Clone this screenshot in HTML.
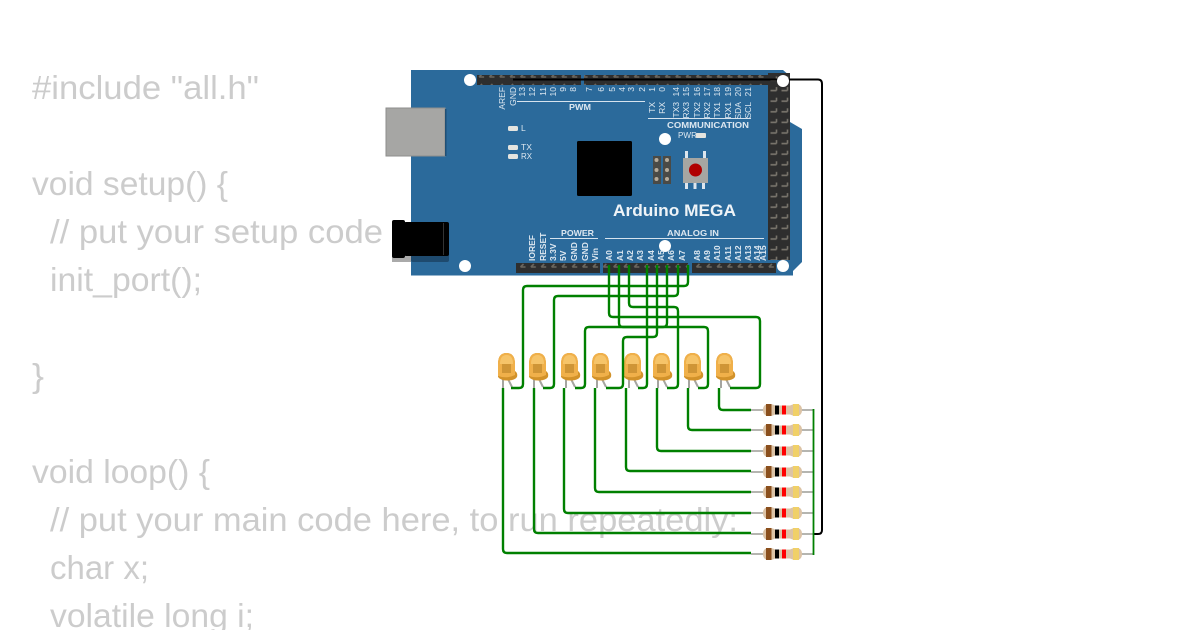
<!DOCTYPE html>
<html><head><meta charset="utf-8"><style>html,body{margin:0;padding:0;background:#fff;overflow:hidden}svg{display:block}</style></head><body>
<svg xmlns="http://www.w3.org/2000/svg" width="1200" height="630" viewBox="0 0 1200 630">
<defs>
<pattern id="pins" x="0" y="0" width="10.35" height="10" patternUnits="userSpaceOnUse"><rect width="10.35" height="10" fill="#2e2e2e"/><path d="M3 7H8M3 7L6 4" stroke="#6b675f" stroke-width="1.6" fill="none"/></pattern>
<pattern id="pinsv" x="768" y="73" width="11" height="10.6" patternUnits="userSpaceOnUse"><rect width="11" height="10.6" fill="#2e2e2e"/><path d="M2.5 7H8.5M8.5 7V3.5" stroke="#77736b" stroke-width="1.6" fill="none"/></pattern>
<g id="led"><path d="M1 379V388M6 379L10 387" stroke="#a5a5a0" stroke-width="2" fill="none"/>
<path d="M-4 364Q-4 353 4.5 353Q13 353 13 364V371Q16 373 15 377Q13 380 7 380.5Q-1 381 -4 377Z" fill="#d2922a"/>
<path d="M-4 364Q-4 353 4.5 353Q13 353 13 364V375Q5 379 -4 376Z" fill="#f0b04a"/>
<path d="M-2 364Q-2 355 4.5 355Q11 355 11 364Z" fill="#f6c469"/>
<path d="M0 364h9v9h-9z" fill="#cf9536"/></g>
<g id="res"><path d="M751 0H813" stroke="#b5b5b0" stroke-width="2"/>
<path d="M763 0Q763 -6 769 -6Q773 -6 775 -4.5H790Q793 -6 796 -6Q802 -6 802 0Q802 6 796 6Q793 6 790 4.5H775Q773 6 769 6Q763 6 763 0Z" fill="#dcc3a6"/>
<rect x="766" y="-6" width="5.5" height="12" fill="#8a4f1d"/><rect x="775" y="-4.5" width="4" height="9" fill="#000"/><rect x="782" y="-4.5" width="4" height="9" fill="#f00"/><rect x="793" y="-6" width="6" height="12" fill="#f0d068"/></g>
</defs>

<g font-family="'Liberation Sans',sans-serif" font-size="33" fill="#cccccc">
<text x="32" y="99" textLength="227" lengthAdjust="spacingAndGlyphs">#include "all.h"</text>
<text x="32" y="195" textLength="196" lengthAdjust="spacingAndGlyphs">void setup() {</text>
<text x="50" y="243" textLength="333" lengthAdjust="spacingAndGlyphs">// put your setup code</text>
<text x="50" y="291" textLength="152" lengthAdjust="spacingAndGlyphs">init_port();</text>
<text x="32" y="387" textLength="12" lengthAdjust="spacingAndGlyphs">}</text>
<text x="32" y="483" textLength="178" lengthAdjust="spacingAndGlyphs">void loop() {</text>
<text x="50" y="531" textLength="688" lengthAdjust="spacingAndGlyphs">// put your main code here, to run repeatedly:</text>
<text x="50" y="579" textLength="99" lengthAdjust="spacingAndGlyphs">char x;</text>
<text x="50" y="627" textLength="204" lengthAdjust="spacingAndGlyphs">volatile long i;</text>
</g>

<!-- USB -->
<circle cx="418" cy="108" r="5" fill="#bbb"/><circle cx="418" cy="156" r="4" fill="#bbb"/>
<!-- board -->
<path d="M411 70H783L790 76V122L802 129V262L793 271V275.5H411Z" fill="#2b6a9b"/>
<rect x="386" y="108" width="59" height="48" fill="#a6a6a4" stroke="#8e8e8c" stroke-width="1"/>
<rect x="445" y="109" width="1.5" height="47" fill="#1f4f75"/>
<!-- jack -->
<rect x="392" y="256" width="19" height="6" fill="#aaa"/>
<rect x="411" y="250" width="38" height="12" rx="2" fill="#1e4a6e"/>
<rect x="404" y="222" width="45" height="34" rx="2" fill="#000"/>
<rect x="392" y="220" width="13" height="38" rx="2" fill="#000"/>
<rect x="443" y="223" width="1" height="32" fill="#333"/>
<!-- headers -->
<rect x="477" y="75" width="104" height="10" fill="url(#pins)"/>
<rect x="584" y="75" width="190" height="10" fill="url(#pins)"/>
<rect x="516" y="263" width="84" height="10" fill="url(#pins)"/>
<rect x="603" y="263" width="85" height="10" fill="url(#pins)"/>
<rect x="692" y="263" width="84" height="10" fill="url(#pins)"/>
<rect x="768" y="73" width="22" height="187" fill="url(#pinsv)"/>
<!-- holes -->
<g fill="#fff"><circle cx="470" cy="80" r="6"/><circle cx="665" cy="139" r="6"/><circle cx="465" cy="266" r="6"/><circle cx="665" cy="246" r="6"/><circle cx="783" cy="266" r="6"/></g>
<!-- chip -->
<rect x="577" y="141" width="55" height="55" rx="1.5" fill="#000"/>
<!-- ICSP -->
<rect x="653" y="156" width="8" height="28" fill="#4a4a46"/><rect x="663" y="156" width="8" height="28" fill="#4a4a46"/>
<g fill="#b5ab9b"><circle cx="656.5" cy="160" r="2"/><circle cx="667" cy="160" r="2"/><circle cx="656.5" cy="170" r="2"/><circle cx="667" cy="170" r="2"/><circle cx="656.5" cy="179" r="2"/><circle cx="667" cy="179" r="2"/></g>
<!-- button -->
<g fill="#dde6ee"><rect x="685" y="151" width="3" height="8"/><rect x="703" y="151" width="3" height="8"/><rect x="685" y="182" width="3" height="7"/><rect x="693.5" y="182" width="3" height="7"/><rect x="702" y="182" width="3" height="7"/></g>
<rect x="683" y="158" width="25" height="25" fill="#a6a6a2"/><circle cx="695.5" cy="170" r="6.5" fill="#b00000"/>
<!-- small leds -->
<g fill="#e4e4df"><rect x="508" y="126" width="10" height="5" rx="1.5"/><rect x="508" y="145" width="10" height="5" rx="1.5"/><rect x="508" y="154" width="10" height="5" rx="1.5"/><rect x="696" y="133" width="10" height="5" rx="1"/></g>
<!-- lines -->
<g stroke="#d6e3ee" stroke-width="1"><path d="M517 101.5H645M648 118.5H751M550 238.5H598M605 238.5H764"/></g>
<!-- labels -->
<g font-family="'Liberation Sans',sans-serif" fill="#dce7f0" font-size="8.5">
<text x="521" y="131">L</text><text x="521" y="150" textLength="11" lengthAdjust="spacingAndGlyphs">TX</text><text x="521" y="159" textLength="11" lengthAdjust="spacingAndGlyphs">RX</text>
<text x="678" y="138" textLength="19" lengthAdjust="spacingAndGlyphs">PWR</text>
<g text-anchor="end">
<text transform="translate(505,87) rotate(-90)" text-anchor="end">AREF</text>
<text transform="translate(516,87) rotate(-90)" text-anchor="end">GND</text>
<text transform="translate(525,87) rotate(-90)" text-anchor="end">13</text>
<text transform="translate(535,87) rotate(-90)" text-anchor="end">12</text>
<text transform="translate(546,87) rotate(-90)" text-anchor="end">11</text>
<text transform="translate(556,87) rotate(-90)" text-anchor="end">10</text>
<text transform="translate(566,87) rotate(-90)" text-anchor="end">9</text>
<text transform="translate(576,87) rotate(-90)" text-anchor="end">8</text>
<text transform="translate(592,87) rotate(-90)" text-anchor="end">7</text>
<text transform="translate(604,87) rotate(-90)" text-anchor="end">6</text>
<text transform="translate(615,87) rotate(-90)" text-anchor="end">5</text>
<text transform="translate(625,87) rotate(-90)" text-anchor="end">4</text>
<text transform="translate(634,87) rotate(-90)" text-anchor="end">3</text>
<text transform="translate(645,87) rotate(-90)" text-anchor="end">2</text>
<text transform="translate(655,87) rotate(-90)" text-anchor="end">1</text>
<text transform="translate(665,87) rotate(-90)" text-anchor="end">0</text>
<text transform="translate(679,87) rotate(-90)" text-anchor="end">14</text>
<text transform="translate(689,87) rotate(-90)" text-anchor="end">15</text>
<text transform="translate(700,87) rotate(-90)" text-anchor="end">16</text>
<text transform="translate(710,87) rotate(-90)" text-anchor="end">17</text>
<text transform="translate(720,87) rotate(-90)" text-anchor="end">18</text>
<text transform="translate(731,87) rotate(-90)" text-anchor="end">19</text>
<text transform="translate(741,87) rotate(-90)" text-anchor="end">20</text>
<text transform="translate(751,87) rotate(-90)" text-anchor="end">21</text>
<text transform="translate(655,102) rotate(-90)" text-anchor="end">TX</text>
<text transform="translate(665,102) rotate(-90)" text-anchor="end">RX</text>
<text transform="translate(679,102) rotate(-90)" text-anchor="end">TX3</text>
<text transform="translate(689,102) rotate(-90)" text-anchor="end">RX3</text>
<text transform="translate(700,102) rotate(-90)" text-anchor="end">TX2</text>
<text transform="translate(710,102) rotate(-90)" text-anchor="end">RX2</text>
<text transform="translate(720,102) rotate(-90)" text-anchor="end">TX1</text>
<text transform="translate(731,102) rotate(-90)" text-anchor="end">RX1</text>
<text transform="translate(741,102) rotate(-90)" text-anchor="end">SDA</text>
<text transform="translate(751,102) rotate(-90)" text-anchor="end">SCL</text>
</g>
<g font-weight="bold" font-size="8.5">
<text transform="translate(535,261) rotate(-90)">IOREF</text>
<text transform="translate(546,261) rotate(-90)">RESET</text>
<text transform="translate(556,261) rotate(-90)">3.3V</text>
<text transform="translate(566,261) rotate(-90)">5V</text>
<text transform="translate(577,261) rotate(-90)">GND</text>
<text transform="translate(588,261) rotate(-90)">GND</text>
<text transform="translate(598,261) rotate(-90)">Vin</text>
<text transform="translate(612,261) rotate(-90)">A0</text>
<text transform="translate(623,261) rotate(-90)">A1</text>
<text transform="translate(633,261) rotate(-90)">A2</text>
<text transform="translate(643,261) rotate(-90)">A3</text>
<text transform="translate(654,261) rotate(-90)">A4</text>
<text transform="translate(664,261) rotate(-90)">A5</text>
<text transform="translate(674,261) rotate(-90)">A6</text>
<text transform="translate(685,261) rotate(-90)">A7</text>
<text transform="translate(700,261) rotate(-90)">A8</text>
<text transform="translate(710,261) rotate(-90)">A9</text>
<text transform="translate(720,261) rotate(-90)">A10</text>
<text transform="translate(731,261) rotate(-90)">A11</text>
<text transform="translate(741,261) rotate(-90)">A12</text>
<text transform="translate(751,261) rotate(-90)">A13</text>
<text transform="translate(760,261) rotate(-90)">A14</text>
<text transform="translate(766,261) rotate(-90)">A15</text>
<text x="569" y="110" textLength="22" lengthAdjust="spacingAndGlyphs">PWM</text>
<text x="667" y="128" textLength="82" lengthAdjust="spacingAndGlyphs">COMMUNICATION</text>
<text x="561" y="236" textLength="33" lengthAdjust="spacingAndGlyphs">POWER</text>
<text x="667" y="236" textLength="52" lengthAdjust="spacingAndGlyphs">ANALOG IN</text>
</g>
<text x="613" y="216" font-size="16.5" font-weight="bold" fill="#eef3f7" textLength="123" lengthAdjust="spacingAndGlyphs">Arduino MEGA</text>
</g>

<!-- LEDs -->
<use href="#led" x="502"/><use href="#led" x="533"/><use href="#led" x="565"/><use href="#led" x="596"/><use href="#led" x="628"/><use href="#led" x="657"/><use href="#led" x="688"/><use href="#led" x="720"/>

<!-- Resistors -->
<use href="#res" y="410"/><use href="#res" y="430"/><use href="#res" y="451"/><use href="#res" y="472"/><use href="#res" y="492"/><use href="#res" y="513"/><use href="#res" y="534"/><use href="#res" y="554"/>

<!-- black -->
<path d="M513 79.5H818Q822 79.5 822 84V530Q822 534 818 534H813" fill="none" stroke="#000" stroke-width="2"/>
<circle cx="783" cy="81" r="6" fill="#fff"/>

<!-- green -->
<g fill="none" stroke="#008000" stroke-width="2.4">
<path d="M688 265V282Q688 286 684 286H527Q523 286 523 290V384Q523 388 519 388H511"/>
<path d="M678 265V292Q678 296 674 296H558Q554 296 554 300V384Q554 388 550 388H543"/>
<path d="M609 265V313Q609 317 613 317H756Q760 317 760 321V384Q760 388 756 388H730"/>
<path d="M619 265V323Q619 327 623 327H704Q708 327 708 331V384Q708 388 704 388H698"/>
<path d="M629 265V303Q629 307 633 307H674Q678 307 678 311V384Q678 388 674 388H667"/>
<path d="M647 265V384Q647 388 643 388H638"/>
<path d="M657 265V333Q657 337 653 337H627Q623 337 623 341V384Q623 388 619 388H606"/>
<path d="M667 265V323Q667 327 663 327H589Q585 327 585 331V384Q585 388 581 388H575"/>
<path d="M503 388V549Q503 553 507 553H751"/>
<path d="M534 388V529Q534 533 538 533H751"/>
<path d="M564 388V509Q564 513 568 513H751"/>
<path d="M595 388V488Q595 492 599 492H751"/>
<path d="M626 388V467Q626 471 630 471H751"/>
<path d="M657 388V447Q657 451 661 451H751"/>
<path d="M688 388V426Q688 430 692 430H751"/>
<path d="M719 388V406Q719 410 723 410H751"/>
<path d="M813.5 409V555" stroke-width="1.8"/>
</g>
</svg>
</body></html>
